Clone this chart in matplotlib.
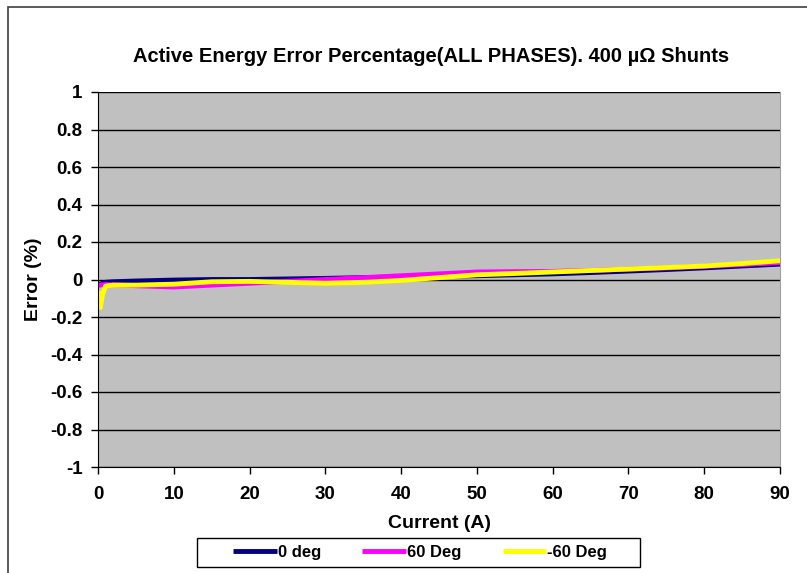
import matplotlib.pyplot as plt
from matplotlib.patches import Rectangle

plt.rcParams["font.family"] = ["Liberation Sans", "DejaVu Sans"]

# current (A) and error (%)
current = [0.1, 0.3, 0.6, 1, 2, 5, 10, 15, 20, 25, 30, 35, 40, 45, 50, 55, 60, 65, 70, 75, 80, 85, 90]
err_0deg = [-0.03, -0.025, -0.02, -0.015, -0.012, -0.008, -0.003, 0.0, 0.0, 0.003, 0.006, 0.01, 0.013, 0.017, 0.02, 0.025, 0.03, 0.037, 0.045, 0.053, 0.062, 0.072, 0.082]
err_60deg = [-0.03, -0.03, -0.028, -0.027, -0.028, -0.033, -0.04, -0.03, -0.02, -0.01, 0.0, 0.01, 0.02, 0.03, 0.04, 0.042, 0.043, 0.048, 0.055, 0.062, 0.07, 0.08, 0.09]
err_m60deg = [-0.06, -0.15, -0.08, -0.035, -0.03, -0.03, -0.025, -0.012, -0.01, -0.015, -0.02, -0.015, -0.005, 0.01, 0.025, 0.032, 0.04, 0.048, 0.056, 0.064, 0.072, 0.085, 0.1]

series = [
    ("0 deg", err_0deg, "#000080"),
    ("60 Deg", err_60deg, "#FF00FF"),
    ("-60 Deg", err_m60deg, "#FFFF00"),
]

W, H = 807, 573
fig = plt.figure(figsize=(W / 100, H / 100), dpi=100)
fig.patch.set_facecolor("white")

# outer chart frame
fig.patches.append(Rectangle((8 / W, -0.01), 1.0, 1 - 7 / H + 0.01, transform=fig.transFigure,
                             fill=False, edgecolor="#404040", linewidth=1.2, zorder=-2))

ax = fig.add_axes([98 / W, 1 - 467 / H, (780 - 98) / W, (467 - 92) / H])
ax.set_facecolor("#C0C0C0")

for label, vals, color in series:
    ax.plot(current, vals, color=color, linewidth=3.5, label=label, solid_capstyle="butt")

ax.set_xlim(0, 90)
ax.set_ylim(-1, 1)
ax.set_xticks(range(0, 91, 10))
ax.set_yticks([-1, -0.8, -0.6, -0.4, -0.2, 0, 0.2, 0.4, 0.6, 0.8, 1])
ax.set_yticklabels(["-1", "-0.8", "-0.6", "-0.4", "-0.2", "0", "0.2", "0.4", "0.6", "0.8", "1"])
ax.yaxis.grid(True, color="black", linewidth=1)
ax.set_axisbelow(True)
ax.tick_params(direction="out", length=5, width=1, labelsize=13.5)
ax.tick_params(axis="y", pad=6)
ax.tick_params(axis="x", pad=9)
for lab in ax.get_xticklabels() + ax.get_yticklabels():
    lab.set_fontweight("bold")

ax.spines["top"].set_visible(False)
ax.spines["right"].set_color("#A0A0A0")
ax.spines["left"].set_color("black")
ax.spines["bottom"].set_color("black")

ax.set_xlabel("Current (A)", fontsize=14, fontweight="bold", labelpad=8)
ax.set_ylabel("Error (%)", fontsize=14, fontweight="bold", labelpad=6)
fig.text(431 / W, 1 - 56 / H, "Active Energy Error Percentage(ALL PHASES). 400 µΩ Shunts",
         ha="center", va="center", fontsize=14.5, fontweight="bold")

# legend box drawn separately (behind), entries centred inside it
fig.patches.append(Rectangle((197 / W, 1 - 567 / H), (640 - 197) / W, (567 - 538) / H,
                             transform=fig.transFigure, facecolor="white",
                             edgecolor="black", linewidth=1, zorder=-1))
leg = ax.legend(loc="center", bbox_to_anchor=(420 / W, 1 - 552 / H), bbox_transform=fig.transFigure,
                ncol=3, frameon=False, fontsize=12,
                handlelength=2.6, handletextpad=0.05, columnspacing=2.5, borderpad=0.2)
for t in leg.get_texts():
    t.set_fontweight("bold")

fig.savefig("out.png", dpi=100)
